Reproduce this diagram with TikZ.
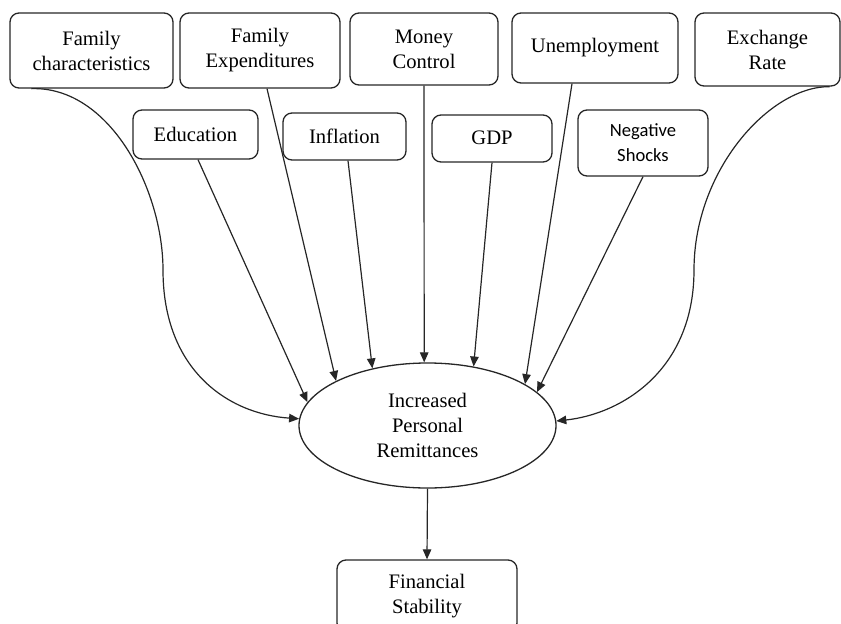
\documentclass[tikz,border=0pt]{standalone}
\usepackage{fontspec}
\setmainfont{Liberation Serif}
\newfontfamily\calib{Carlito}
\usetikzlibrary{arrows.meta,shapes.geometric}
\tikzset{
  boxnode/.style={draw=black!85, line width=1.3pt, rounded corners=9pt, align=center,
    inner sep=0pt, font=\fontsize{20.6}{25}\selectfont},
  ellnode/.style={draw=black!85, line width=1.3pt, ellipse, align=center, inner sep=0pt,
    font=\fontsize{20.6}{25}\selectfont, minimum width=257pt, minimum height=125pt},
  conn/.style={draw=black!85, line width=1.2pt, -{Triangle[length=10pt,width=8.5pt]}}
}
\begin{document}
\begin{tikzpicture}[x=1pt,y=-1pt]
\useasboundingbox (0,0) rectangle (841,624);
% top row
\node[boxnode, minimum width=163pt, minimum height=75pt] (fc) at (91.5,50.5) {Family\\characteristics};
\node[boxnode, minimum width=160pt, minimum height=75pt] (fe) at (260,50.5) {Family\\Expenditures};
\node[boxnode, minimum width=148pt, minimum height=72pt] (mc) at (424,49) {Money\\Control};
\node[boxnode, minimum width=166pt, minimum height=70pt] (un) at (595,48) {\raisebox{4pt}{Unemployment}};
\node[boxnode, minimum width=145pt, minimum height=73pt] (ex) at (767.5,49.5) {Exchange\\Rate};
% second row
\node[boxnode, minimum width=125pt, minimum height=49pt] (ed) at (195.5,134.5) {Education};
\node[boxnode, minimum width=123pt, minimum height=47pt] (inf) at (344.5,136.5) {Inflation};
\node[boxnode, minimum width=120pt, minimum height=47pt] (gdp) at (492,138.5) {\raisebox{2pt}{GDP}};
\node[boxnode, minimum width=130pt, minimum height=66pt, font=\calib\fontsize{18.6}{25}\selectfont] (ns) at (643,143) {Negative\\Shocks};
% centre
\node[ellnode] (ell) at (427.5,425.5) {Increased\\Personal\\Remittances};
\node[boxnode, minimum width=180pt, minimum height=72pt] (fs) at (427,596) {Financial\\Stability};
% connectors
\draw[conn] ([xshift=22pt]fc.south west) .. controls (110,86) and (163,190) .. (163,270)
  .. controls (163,370) and (228,414) .. (ell.177);
\draw[conn] ([xshift=-11pt]ex.south east) .. controls (770,86) and (694,170) .. (694,270)
  .. controls (694,370) and (622,414) .. (ell.2);
\draw[conn] ([xshift=2.5pt]ed.south) -- (ell.169.6);
\draw[conn] ([xshift=7pt]fe.south) -- (ell.154.4);
\draw[conn] ([xshift=3.5pt]inf.south) -- (ell.134.5);
\draw[conn] (mc.south) -- (ell.93.6);
\draw[conn] (gdp.south) -- (ell.52.8);
\draw[conn] ([xshift=-23pt]un.south) -- (ell.23.6);
\draw[conn] (ns.south) -- (ell.17);
\draw[conn] (ell.south) -- (fs.north);
\end{tikzpicture}
\end{document}
